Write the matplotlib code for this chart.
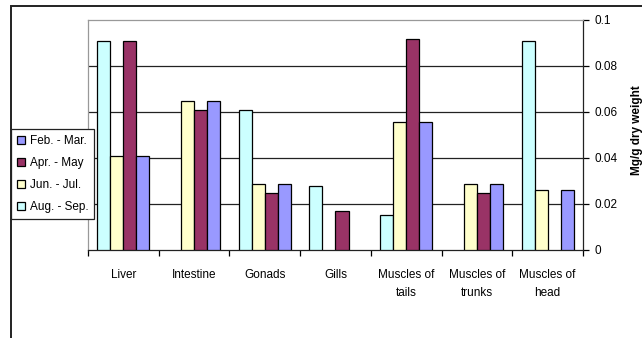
import numpy as np
from matplotlib import pyplot as plt
from matplotlib.patches import Rectangle

plt.rcParams["font.family"] = ["Liberation Sans", "DejaVu Sans"]

categories = ["Liver", "Intestine", "Gonads", "Gills",
              "Muscles of\ntails", "Muscles of\ntrunks", "Muscles of\nhead"]

# nan = no measurement for that period
feb_mar = [0.041, 0.065, 0.0288, np.nan, 0.0558, 0.0288, 0.026]
apr_may = [0.091, 0.0608, 0.025, 0.0169, 0.0918, 0.025, np.nan]
jun_jul = [0.041, 0.065, 0.0288, np.nan, 0.0558, 0.0288, 0.026]
aug_sep = [0.091, np.nan, 0.0608, 0.028, 0.0151, np.nan, 0.091]

series = [
    ("Aug. - Sep.", aug_sep, "#CCFFFF"),
    ("Jun. - Jul.", jun_jul, "#FFFFCC"),
    ("Apr. - May", apr_may, "#993366"),
    ("Feb. - Mar.", feb_mar, "#9999FF"),
]

W, H = 642, 338
fig = plt.figure(figsize=(W / 100, H / 100), dpi=100)
fig.patch.set_facecolor("white")

# outer chart frame (runs off the right and bottom edges)
fig.patches.append(Rectangle((11 / W, -0.1), 1.2, (H - 6) / H + 0.1,
                             transform=fig.transFigure, fill=False,
                             edgecolor="#222222", linewidth=1.4))

ax = fig.add_axes([88 / W, (H - 250) / H, (583 - 88) / W, (250 - 20) / H])

x = np.arange(len(categories))
width = 0.184
handles = {}
for i, (name, vals, col) in enumerate(series):
    vals = np.array(vals, dtype=float)
    ok = ~np.isnan(vals)
    offs = (i - 1.5) * width
    b = ax.bar(x[ok] + offs, vals[ok], width, color=col,
               edgecolor="black", linewidth=0.9, zorder=3)
    handles[name] = b

ax.set_xlim(-0.5, len(categories) - 0.5)
ax.set_ylim(0, 0.1)

yticks = [0, 0.02, 0.04, 0.06, 0.08, 0.1]
ax.yaxis.tick_right()
ax.set_yticks(yticks)
ax.set_yticklabels(["0", "0.02", "0.04", "0.06", "0.08", "0.1"], fontsize=8.5)
for yv in yticks[1:-1]:
    ax.axhline(yv, color="#222222", linewidth=0.9, zorder=1)

# category ticks sit on the boundaries, labels centred under each group
ax.set_xticks(np.arange(len(categories) + 1) - 0.5)
ax.set_xticklabels([])
ax.set_xticks(x, minor=True)
ax.set_xticklabels(categories, minor=True, fontsize=8.5, linespacing=1.75)
ax.tick_params(axis="x", which="minor", length=0, pad=13.5)
ax.tick_params(axis="x", which="major", length=4, width=0.9, direction="out")
ax.tick_params(axis="y", length=4, width=0.9, direction="out", pad=4)

ax.spines["top"].set_color("#999999")
ax.spines["left"].set_color("#999999")
ax.spines["right"].set_color("#222222")
ax.spines["bottom"].set_color("#222222")
for s in ax.spines.values():
    s.set_linewidth(0.9)

fig.text(631 / W, 1 - 130 / H, "Mg/g dry weight", rotation=90,
         ha="left", va="center", fontsize=8.5, fontweight="bold")

order = ["Feb. - Mar.", "Apr. - May", "Jun. - Jul.", "Aug. - Sep."]
leg = fig.legend([handles[n] for n in order], order,
                 loc="upper left", bbox_to_anchor=(11 / W, 1 - 129 / H),
                 fontsize=8.5, frameon=True, fancybox=False,
                 edgecolor="#222222", framealpha=1,
                 handlelength=0.7, handleheight=0.7, handletextpad=0.4,
                 labelspacing=0.85, borderpad=0.5, borderaxespad=0)
leg.get_frame().set_linewidth(0.9)

plt.savefig("out.png", dpi=100)
plt.close(fig)
